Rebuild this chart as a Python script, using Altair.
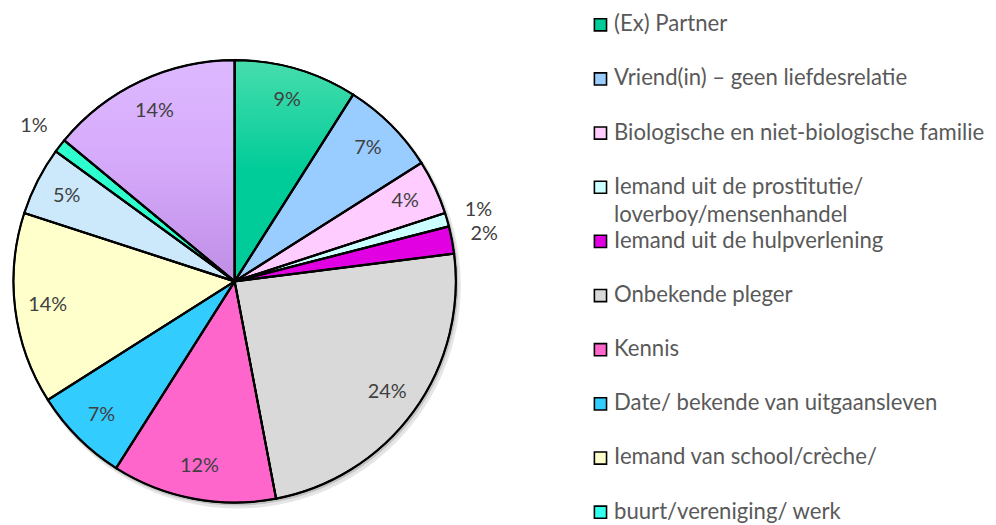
import altair as alt
import pandas as pd

# ---- data ----
slice_labels = [
    "(Ex) Partner",
    "Vriend(in) – geen liefdesrelatie",
    "Biologische en niet-biologische familie",
    "Iemand uit de prostitutie/ loverboy/mensenhandel",
    "Iemand uit de hulpverlening",
    "Onbekende pleger",
    "Kennis",
    "Date/ bekende van uitgaansleven",
    "Iemand van school/crèche/",
    "buurt/vereniging/ werk",
    "Overig A",
    "Overig B",
]
slice_values = [9, 7, 4, 1, 2, 24, 12, 7, 14, 5, 1, 14]
slice_colors = ["#00cc99", "#99ccff", "#ffccff", "#ccffff", "#e100e1", "#d9d9d9",
                "#ff66cc", "#33ccff", "#ffffcc", "#cce9fc", "#2effcf", "#d4a6fa"]

legend_labels = [
    "(Ex) Partner",
    "Vriend(in) – geen liefdesrelatie",
    "Biologische en niet-biologische familie",
    "Iemand uit de prostitutie/\nloverboy/mensenhandel",
    "Iemand uit de hulpverlening",
    "Onbekende pleger",
    "Kennis",
    "Date/ bekende van uitgaansleven",
    "Iemand van school/crèche/",
    "buurt/vereniging/ werk",
]
legend_colors = ["#00cc99", "#99ccff", "#ffccff", "#ccffff", "#e100e1", "#d9d9d9",
                 "#ff66cc", "#33ccff", "#ffffcc", "#33ffee"]

# ---- tables built from the lists ----
pie = pd.DataFrame({"cat": slice_labels, "value": slice_values})
pie["end"] = pie["value"].cumsum()
pie["start"] = pie["end"] - pie["value"]
pie["mid"] = (pie["start"] + pie["end"]) / 2
pie["label"] = pie["value"].astype(str) + "%"

leg = pd.DataFrame({"row": list(range(len(legend_labels))),
                    "label": legend_labels, "color": legend_colors})

CX, CY, R = 228.5, 273.5, 223
FONT = "Lato"

theta_scale = alt.Scale(domain=[0, sum(slice_values)])
base = alt.Chart(pie).encode(
    theta=alt.Theta("start:Q", scale=theta_scale),
    theta2="end:Q",
    x=alt.value(CX), y=alt.value(CY),
)

# soft shadow
shadow1 = base.mark_arc(outerRadius=R + 2, fill="#000000", opacity=0.10).encode(
    x=alt.value(CX + 3), y=alt.value(CY + 4))
shadow2 = base.mark_arc(outerRadius=R + 1, fill="#000000", opacity=0.15).encode(
    x=alt.value(CX + 1.5), y=alt.value(CY + 2))

slices = base.mark_arc(outerRadius=R, stroke="black", strokeWidth=1.6).encode(
    color=alt.Color("cat:N", scale=alt.Scale(domain=slice_labels, range=slice_colors),
                    legend=None)
)

green_grad = base.transform_filter(alt.datum.cat == slice_labels[0]).mark_arc(
    outerRadius=R, stroke="black", strokeWidth=1.6,
    fill=alt.LinearGradient(gradient="linear", x1=0, x2=0, y1=0, y2=1,
                            stops=[alt.GradientStop(color="#48ddad", offset=0),
                                   alt.GradientStop(color="#00cc99", offset=0.5),
                                   alt.GradientStop(color="#00cc99", offset=1)]))
lav_grad = base.transform_filter(alt.datum.cat == slice_labels[11]).mark_arc(
    outerRadius=R, stroke="black", strokeWidth=1.6,
    fill=alt.LinearGradient(gradient="linear", x1=0, x2=0, y1=0, y2=1,
                            stops=[alt.GradientStop(color="#ddb9ff", offset=0),
                                   alt.GradientStop(color="#d6aafb", offset=0.45),
                                   alt.GradientStop(color="#bf8ee6", offset=1)]))

outline = base.mark_arc(outerRadius=R, fill="transparent", stroke="black", strokeWidth=2.2)

lbl = alt.Chart(pie).encode(
    theta=alt.Theta("mid:Q", scale=theta_scale),
    x=alt.value(CX), y=alt.value(CY),
    text="label:N",
)
inside = lbl.transform_filter(alt.datum.value > 2).mark_text(
    radius=190, font=FONT, fontSize=20, color="#404040", align="center", baseline="middle")
outside = lbl.transform_filter(alt.datum.value <= 2).mark_text(
    radius=256, font=FONT, fontSize=20, color="#404040", align="center", baseline="middle")

yscale = alt.Scale(domain=[0, len(legend_labels) - 1], range=[21.3, 512.7], nice=False, zero=False)
leg_base = alt.Chart(leg).encode(y=alt.Y("row:Q", scale=yscale, axis=None))
swatch = leg_base.mark_square(size=150, stroke="black", strokeWidth=1.6, opacity=1, yOffset=-6.5).encode(
    x=alt.value(597.3), fill=alt.Fill("color:N", scale=None))
leg_text = leg_base.mark_text(font=FONT, fontSize=22.3, color="#595959", align="left",
                              baseline="alphabetic", lineBreak="\n", lineHeight=29).encode(
    x=alt.value(611), text="label:N")

chart = alt.layer(shadow1, shadow2, slices, green_grad, lav_grad, outline,
                  inside, outside, swatch, leg_text).properties(
    width=988, height=517, padding=0,
    autosize=alt.AutoSizeParams(type="none"),
).configure_view(stroke=None)

chart.save("out.html", embed_options={"renderer": "svg", "actions": False})
